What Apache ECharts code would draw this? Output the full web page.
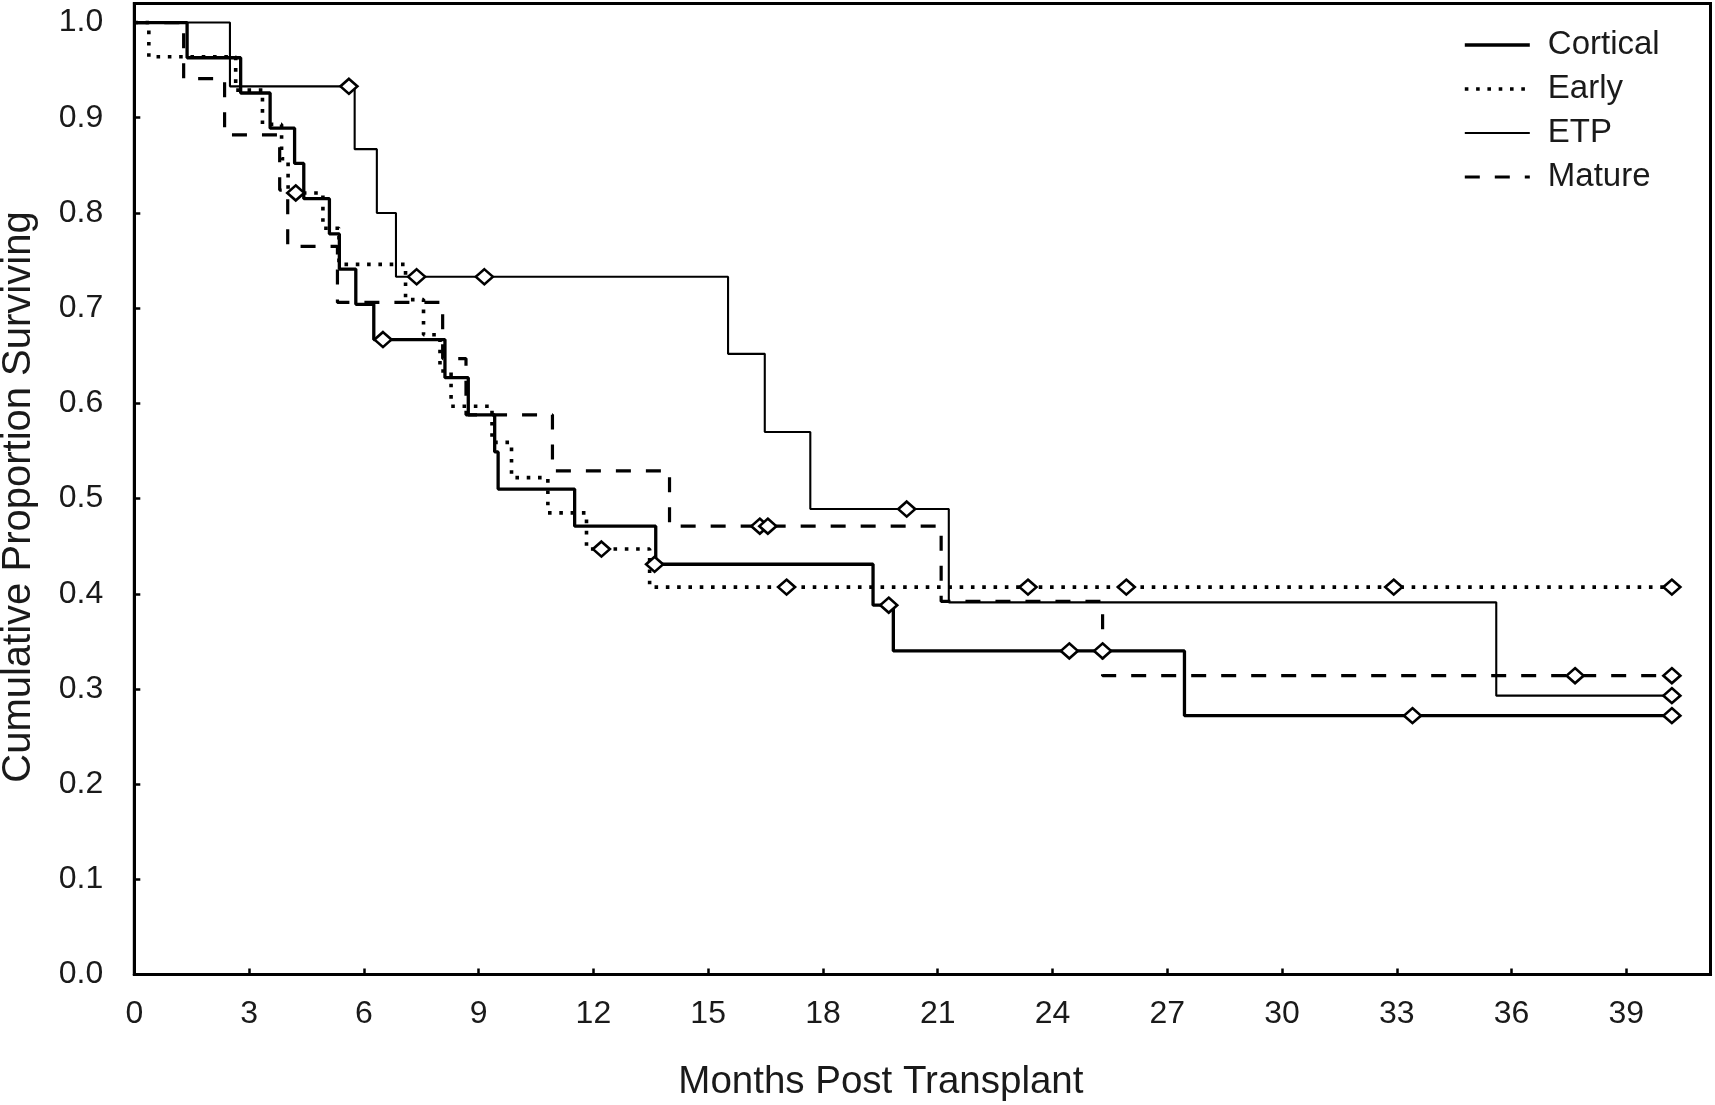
<!DOCTYPE html>
<html>
<head>
<meta charset="utf-8">
<style>
  html, body { margin: 0; padding: 0; background: #fff; }
  #chart { width: 1715px; height: 1105px; }
</style>
<script src="https://cdn.jsdelivr.net/npm/echarts@6.0.0/dist/echarts.min.js"></script>
</head>
<body>
<div id="chart"></div>
<script>
// ---- Data (months post transplant, cumulative proportion surviving) ----
const corticalTimes = [0, 1.38, 2.78, 3.55, 4.19, 4.43, 5.10, 5.36, 5.79, 6.26, 8.12, 8.73, 9.42, 9.51, 11.51, 13.63, 19.31, 19.84, 27.45, 40.19];
const corticalSurv  = [1, 0.963, 0.926, 0.889, 0.852, 0.815, 0.778, 0.741, 0.704, 0.667, 0.627, 0.588, 0.549, 0.510, 0.471, 0.431, 0.388, 0.340, 0.272, 0.272];
const corticalCensorTimes = [6.50, 13.60, 19.72, 24.44, 25.31, 33.41, 40.19];
const corticalCensorSurv  = [0.667, 0.431, 0.388, 0.340, 0.340, 0.272, 0.272];

const earlyTimes = [0, 0.38, 2.65, 3.35, 3.85, 4.02, 4.93, 5.35, 7.09, 7.56, 7.99, 8.28, 9.35, 9.86, 10.81, 11.82, 13.47, 40.19];
const earlySurv  = [1, 0.964, 0.929, 0.893, 0.857, 0.821, 0.784, 0.746, 0.709, 0.672, 0.634, 0.597, 0.559, 0.522, 0.485, 0.447, 0.407, 0.407];
const earlyCensorTimes = [4.22, 12.21, 17.05, 23.36, 25.93, 32.92, 40.19];
const earlyCensorSurv  = [0.821, 0.447, 0.407, 0.407, 0.407, 0.407, 0.407];

const etpTimes = [0, 2.50, 5.76, 6.34, 6.84, 15.52, 16.48, 17.67, 21.29, 35.60, 40.19];
const etpSurv  = [1, 0.933, 0.867, 0.800, 0.733, 0.652, 0.570, 0.489, 0.391, 0.293, 0.293];
const etpCensorTimes = [5.61, 7.38, 9.15, 20.19, 40.19];
const etpCensorSurv  = [0.933, 0.733, 0.733, 0.489, 0.293];

const matureTimes = [0, 1.29, 2.36, 3.80, 4.01, 5.31, 8.06, 8.67, 10.93, 13.99, 21.09, 25.31, 40.19];
const matureSurv  = [1, 0.941, 0.882, 0.824, 0.765, 0.706, 0.647, 0.588, 0.529, 0.471, 0.392, 0.314, 0.314];
const matureCensorTimes = [16.35, 16.56, 37.66, 40.19];
const matureCensorSurv  = [0.471, 0.471, 0.314, 0.314];

const seriesNames = ['Cortical', 'Early', 'ETP', 'Mature'];
const xTickStep = 3;
const yTickStep = 0.1;
const xAxisTitle = 'Months Post Transplant';
const yAxisTitle = 'Cumulative Proportion Surviving';

// ---- Build ----
const zip = (a, b) => a.map((v, i) => [v, b[i]]);
const FONT = '"Liberation Sans", Arial, Helvetica, sans-serif';
const INK = '#000';
const TEXT = '#1a1a1a';

const lineStyles = {
  Cortical: { color: INK, width: 3.3, type: 'solid' },
  Early:    { color: INK, width: 3.6, type: [3.6, 7.7], cap: 'butt' },
  ETP:      { color: INK, width: 2.1, type: 'solid' },
  Mature:   { color: INK, width: 3.2, type: [15, 15], cap: 'butt' }
};
const curves = {
  Cortical: zip(corticalTimes, corticalSurv),
  Early: zip(earlyTimes, earlySurv),
  ETP: zip(etpTimes, etpSurv),
  Mature: zip(matureTimes, matureSurv)
};
const censors = {
  Cortical: zip(corticalCensorTimes, corticalCensorSurv),
  Early: zip(earlyCensorTimes, earlyCensorSurv),
  ETP: zip(etpCensorTimes, etpCensorSurv),
  Mature: zip(matureCensorTimes, matureCensorSurv)
};

const series = [];
seriesNames.forEach(n => {
  series.push({
    name: n, type: 'line', step: 'end', data: curves[n],
    symbol: 'none', showSymbol: false, lineStyle: lineStyles[n],
    itemStyle: { color: INK }, z: 3, animation: false, silent: true
  });
});
seriesNames.forEach(n => {
  series.push({
    name: n + ' censored', type: 'scatter', data: censors[n],
    symbol: 'diamond', symbolSize: [17, 15],
    itemStyle: { color: '#fff', borderColor: INK, borderWidth: 2.6, opacity: 1 },
    z: 5, animation: false, silent: true
  });
});

const isMult = (v, s) => Math.abs(v / s - Math.round(v / s)) < 1e-6;

const chart = echarts.init(document.getElementById('chart'), null, { renderer: 'canvas' });
chart.setOption({
  backgroundColor: '#fff',
  animation: false,
  grid: {
    left: 134.3, right: 4.5, top: 3.5, bottom: 130.4,
    show: true, borderColor: INK, borderWidth: 3,
    containLabel: false, outerBoundsMode: 'none'
  },
  legend: {
    data: seriesNames.map(n => ({ name: n, lineStyle: Object.assign({}, lineStyles[n]) })),
    orient: 'vertical',
    left: 1458, top: 22.5,
    padding: 5,
    itemWidth: 65, itemHeight: 14, itemGap: 9,
    selectedMode: false,
    itemStyle: { opacity: 0 },
    textStyle: { fontFamily: FONT, fontSize: 33, color: TEXT, lineHeight: 35, padding: [0, 0, 0, 13] }
  },
  xAxis: {
    type: 'value', min: 0, max: 41.2, interval: xTickStep,
    name: xAxisTitle, nameLocation: 'middle', nameGap: 88.5,
    nameTextStyle: { fontFamily: FONT, fontSize: 38.5, color: TEXT, padding: [0, 83, 0, 0] },
    axisLine: { show: true, onZero: false, lineStyle: { color: INK, width: 3 } },
    axisTick: { show: true, inside: true, length: 6, lineStyle: { color: INK, width: 2.5 } },
    axisLabel: {
      margin: 24, fontFamily: FONT, fontSize: 32, color: TEXT,
      formatter: v => (isMult(v, xTickStep) && v <= 40 ? String(Math.round(v)) : '')
    },
    splitLine: { show: false }
  },
  yAxis: {
    type: 'value', min: 0, max: 1.02, interval: yTickStep,
    name: yAxisTitle, nameLocation: 'middle', nameGap: 95,
    nameTextStyle: { fontFamily: FONT, fontSize: 40, color: TEXT, padding: [0, 16, 0, 0] },
    axisLine: { show: true, onZero: false, lineStyle: { color: INK, width: 3 } },
    axisTick: { show: true, inside: true, length: 6, lineStyle: { color: INK, width: 2.5 } },
    axisLabel: {
      margin: 31, fontFamily: FONT, fontSize: 32, color: TEXT,
      formatter: v => (isMult(v, yTickStep) && v <= 1.0001 ? v.toFixed(1) : '')
    },
    splitLine: { show: false }
  },
  series: series
});
</script>
</body>
</html>
